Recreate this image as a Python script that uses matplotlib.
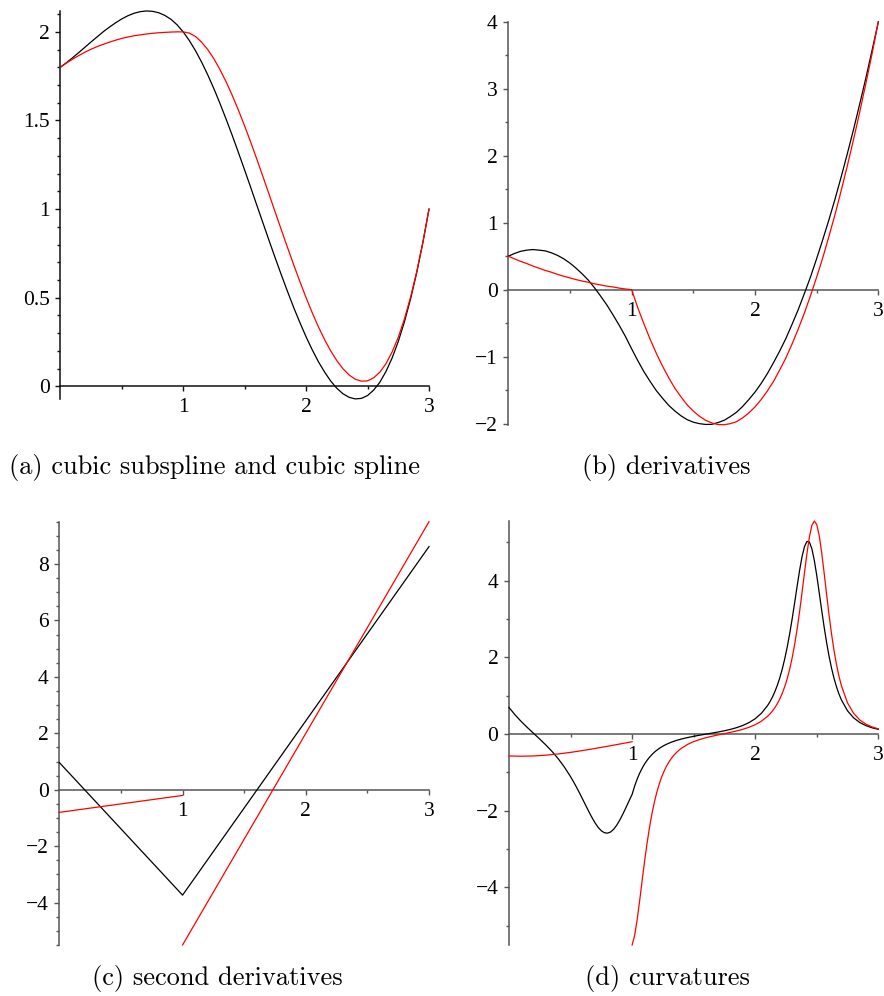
import matplotlib
matplotlib.use("Agg")
from matplotlib import pyplot as plt
from matplotlib.ticker import MultipleLocator, FixedLocator

# sample positions for (a) and (b)
x_grid = [0.0, 0.05, 0.1, 0.15, 0.2, 0.25, 0.3, 0.35, 0.4, 0.45, 0.5, 0.55, 0.6, 0.65, 0.7,
          0.75, 0.8, 0.85, 0.9, 0.95, 1.0, 1.05, 1.1, 1.15, 1.2, 1.25, 1.3, 1.35, 1.4, 1.45,
          1.5, 1.55, 1.6, 1.65, 1.7, 1.75, 1.8, 1.85, 1.9, 1.95, 2.0, 2.05, 2.1, 2.15, 2.2,
          2.25, 2.3, 2.35, 2.4, 2.45, 2.5, 2.55, 2.6, 2.65, 2.7, 2.75, 2.8, 2.85, 2.9, 2.95, 3.0]

# (a) cubic spline (black) and cubic subspline (red)
spline_y = [1.8, 1.826, 1.854, 1.883, 1.913, 1.943, 1.972, 2.001, 2.027, 2.051, 2.073, 2.091,
            2.105, 2.114, 2.118, 2.116, 2.108, 2.093, 2.071, 2.04, 2.0, 1.951, 1.894, 1.829,
            1.757, 1.679, 1.595, 1.506, 1.414, 1.318, 1.220, 1.121, 1.020, 0.92, 0.820, 0.722,
            0.626, 0.533, 0.443, 0.359, 0.279, 0.206, 0.139, 0.081, 0.030, -0.011, -0.042,
            -0.062, -0.071, -0.068, -0.052, -0.021, 0.023, 0.084, 0.160, 0.253, 0.364, 0.493,
            0.642, 0.811, 1.0]
subspline_y = [1.8, 1.824, 1.846, 1.866, 1.885, 1.902, 1.917, 1.93, 1.942, 1.953, 1.963, 1.971,
               1.978, 1.983, 1.988, 1.992, 1.995, 1.997, 1.999, 2.0, 2.0, 1.993, 1.974, 1.942,
               1.900, 1.848, 1.786, 1.717, 1.640, 1.557, 1.469, 1.376, 1.280, 1.181, 1.081,
               0.98, 0.880, 0.781, 0.684, 0.59, 0.500, 0.415, 0.336, 0.264, 0.200, 0.145, 0.099,
               0.064, 0.040, 0.029, 0.031, 0.048, 0.080, 0.128, 0.194, 0.277, 0.380, 0.503,
               0.646, 0.812, 1.0]

# (b) derivatives
spline_d1 = [0.5, 0.54, 0.573, 0.59, 0.599, 0.59, 0.579, 0.55, 0.511, 0.46, 0.396, 0.32, 0.234,
             0.14, 0.025, -0.1, -0.231, -0.38, -0.534, -0.7, -0.883, -1.06, -1.226, -1.37,
             -1.507, -1.62, -1.726, -1.81, -1.883, -1.94, -1.978, -2.0, -2.012, -2.01, -1.984,
             -1.95, -1.894, -1.83, -1.743, -1.64, -1.529, -1.4, -1.254, -1.09, -0.917, -0.73,
             -0.519, -0.3, -0.059, 0.19, 0.464, 0.75, 1.047, 1.36, 1.693, 2.04, 2.400, 2.78,
             3.169, 3.58, 4.0]
subspline_d1 = [0.5, 0.46, 0.423, 0.39, 0.352, 0.32, 0.287, 0.26, 0.228, 0.2, 0.175, 0.15,
                0.128, 0.11, 0.087, 0.07, 0.052, 0.04, 0.023, 0.01, 0.0, -0.27, -0.513, -0.74,
                -0.95, -1.14, -1.313, -1.47, -1.6, -1.72, -1.813, -1.89, -1.95, -1.99, -2.013,
                -2.016, -2.0, -1.97, -1.913, -1.84, -1.75, -1.64, -1.513, -1.37, -1.2, -1.02,
                -0.813, -0.59, -0.35, -0.09, 0.188, 0.48, 0.8, 1.13, 1.488, 1.86, 2.25, 2.66,
                3.088, 3.53, 4.0]

# (c) second derivatives (straight pieces)
spline_d2_x = [0.0, 1.0, 3.0]
spline_d2 = [0.967, -3.733, 8.617]
subspline_d2_left_x = [0.0, 1.0]
subspline_d2_left = [-0.8, -0.2]
subspline_d2_right_x = [1.0, 3.0]
subspline_d2_right = [-5.5, 9.5]

# (d) curvatures
x_curv = [0.0, 0.05, 0.1, 0.15, 0.2, 0.25, 0.3, 0.35, 0.4, 0.45, 0.5, 0.525, 0.55, 0.575,
          0.6, 0.625, 0.65, 0.675, 0.7, 0.725, 0.75, 0.775, 0.8, 0.825, 0.85, 0.875, 0.9,
          0.925, 0.95, 0.975, 1.0, 1.02, 1.04, 1.06, 1.08, 1.1, 1.12, 1.14, 1.16, 1.18, 1.2,
          1.22, 1.24, 1.26, 1.28, 1.3, 1.32, 1.34, 1.36, 1.38, 1.4, 1.45, 1.5, 1.55, 1.6,
          1.65, 1.7, 1.75, 1.8, 1.85, 1.9, 1.95, 2.0, 2.05, 2.1, 2.12, 2.14, 2.16, 2.18, 2.2,
          2.22, 2.24, 2.26, 2.28, 2.3, 2.32, 2.34, 2.36, 2.38, 2.4, 2.42, 2.44, 2.46, 2.48,
          2.5, 2.52, 2.54, 2.56, 2.58, 2.6, 2.62, 2.64, 2.66, 2.68, 2.7, 2.75, 2.8, 2.85,
          2.9, 2.95, 3.0]
spline_curv = [0.692, 0.497, 0.324, 0.167, 0.017, -0.132, -0.288, -0.456, -0.645, -0.862,
               -1.112, -1.25, -1.397, -1.551, -1.711, -1.873, -2.032, -2.184, -2.321, -2.437,
               -2.523, -2.573, -2.584, -2.554, -2.483, -2.377, -2.241, -2.085, -1.917, -1.743,
               -1.572, -1.362, -1.182, -1.029, -0.899, -0.787, -0.691, -0.609, -0.538, -0.476,
               -0.423, -0.376, -0.334, -0.298, -0.266, -0.237, -0.211, -0.188, -0.167, -0.148,
               -0.13, -0.092, -0.059, -0.03, -0.002, 0.025, 0.054, 0.086, 0.123, 0.168, 0.225,
               0.3, 0.4, 0.541, 0.741, 0.845, 0.967, 1.109, 1.276, 1.471, 1.7, 1.965, 2.271,
               2.618, 3.003, 3.419, 3.847, 4.259, 4.62, 4.887, 5.023, 5.005, 4.832, 4.527,
               4.129, 3.681, 3.222, 2.783, 2.381, 2.024, 1.716, 1.453, 1.231, 1.045, 0.89,
               0.604, 0.42, 0.299, 0.218, 0.162, 0.123]
x_curv_left = [0.0, 0.1, 0.2, 0.3, 0.4, 0.5, 0.6, 0.7, 0.8, 0.9, 1.0]
subspline_curv_left = [-0.572, -0.578, -0.571, -0.551, -0.519, -0.478, -0.429, -0.376,
                       -0.319, -0.26, -0.2]
subspline_curv_right = [-5.5, -5.257, -4.862, -4.376, -3.857, -3.348, -2.877, -2.459, -2.096,
                        -1.786, -1.524, -1.304, -1.119, -0.964, -0.834, -0.723, -0.63, -0.55,
                        -0.482, -0.423, -0.372, -0.271, -0.197, -0.141, -0.095, -0.057, -0.022,
                        0.011, 0.045, 0.082, 0.124, 0.177, 0.244, 0.335, 0.461, 0.526, 0.602,
                        0.691, 0.795, 0.918, 1.065, 1.239, 1.447, 1.694, 1.987, 2.332, 2.732,
                        3.186, 3.684, 4.204, 4.707, 5.139, 5.439, 5.554, 5.46, 5.167, 4.724,
                        4.192, 3.633, 3.095, 2.605, 2.178, 1.814, 1.51, 1.259, 0.81, 0.536,
                        0.365, 0.256, 0.184, 0.136]
x_curv_right = x_curv[30:]

captions = ["(a) cubic subspline and cubic spline", "(b) derivatives",
            "(c) second derivatives", "(d) curvatures"]

TICK_FONT = "Liberation Serif"


def fmt(v):
    if abs(v) < 1e-9:
        return "0"
    s = "%g" % abs(v)
    return ("\u2212" + s) if v < 0 else s


def style_axes(ax, ylim, major, minor, axis_color):
    ax.set_xlim(0, 3)
    ax.set_ylim(*ylim)
    ax.patch.set_visible(False)
    for side in ("top", "right"):
        ax.spines[side].set_visible(False)
    ax.spines["left"].set_position(("data", 0))
    ax.spines["bottom"].set_position(("data", 0))
    for side in ("left", "bottom"):
        ax.spines[side].set_color(axis_color)
        ax.spines[side].set_linewidth(1.1)
        ax.spines[side].set_zorder(1)
    ax.xaxis.set_major_locator(FixedLocator([1, 2, 3]))
    ax.xaxis.set_minor_locator(FixedLocator([0.5, 1.5, 2.5]))
    ax.set_xticklabels(["1", "2", "3"])
    ax.yaxis.set_major_locator(FixedLocator(major))
    ax.yaxis.set_minor_locator(MultipleLocator(minor))
    ax.set_yticklabels([fmt(v) for v in major])
    ax.tick_params(which="major", direction="out", length=3.6, width=1, color=axis_color,
                   labelsize=15.5)
    ax.tick_params(axis="x", which="major", pad=5)
    ax.tick_params(axis="y", which="major", pad=4)
    ax.tick_params(which="minor", direction="out", length=2.4, width=1, color=axis_color)
    for lab in ax.get_xticklabels() + ax.get_yticklabels():
        lab.set_family(TICK_FONT)


def curve(ax, x, y, color):
    ax.plot(x, y, color=color, lw=0.9, clip_on=False, zorder=3)


fig = plt.figure(figsize=(8.84, 9.96), dpi=100)

ax_a = fig.add_axes([0.0682, 0.5994, 0.4171, 0.3896])
curve(ax_a, x_grid, spline_y, "black")
curve(ax_a, x_grid, subspline_y, "red")
style_axes(ax_a, (-0.0715, 2.118), [0, 0.5, 1, 1.5, 2], 0.1, "#111111")

ax_b = fig.add_axes([0.5750, 0.5735, 0.4186, 0.4047])
curve(ax_b, x_grid, spline_d1, "black")
curve(ax_b, x_grid, subspline_d1, "red")
style_axes(ax_b, (-2.017, 4.0), [-2, -1, 0, 1, 2, 3, 4], 0.5, "#555555")

ax_c = fig.add_axes([0.0671, 0.0512, 0.4182, 0.4250])
curve(ax_c, spline_d2_x, spline_d2, "black")
curve(ax_c, subspline_d2_left_x, subspline_d2_left, "red")
curve(ax_c, subspline_d2_right_x, subspline_d2_right, "red")
style_axes(ax_c, (-5.5, 9.5), [-4, -2, 0, 2, 4, 6, 8], 0.5, "#555555")

ax_d = fig.add_axes([0.5758, 0.0512, 0.4178, 0.4257])
curve(ax_d, x_curv, spline_curv, "black")
curve(ax_d, x_curv_left, subspline_curv_left, "red")
curve(ax_d, x_curv_right, subspline_curv_right, "red")
style_axes(ax_d, (-5.5, 5.554), [-4, -2, 0, 2, 4], 1, "#555555")

cap_pos = [(0.2432, 1 - 467 / 996), (0.7540, 1 - 467 / 996),
           (0.2455, 1 - 978 / 996), (0.7545, 1 - 978 / 996)]
for (cx, cy), text in zip(cap_pos, captions):
    fig.text(cx, cy, text, ha="center", va="center", family="cmr10", fontsize=19)

fig.savefig("out.png")
